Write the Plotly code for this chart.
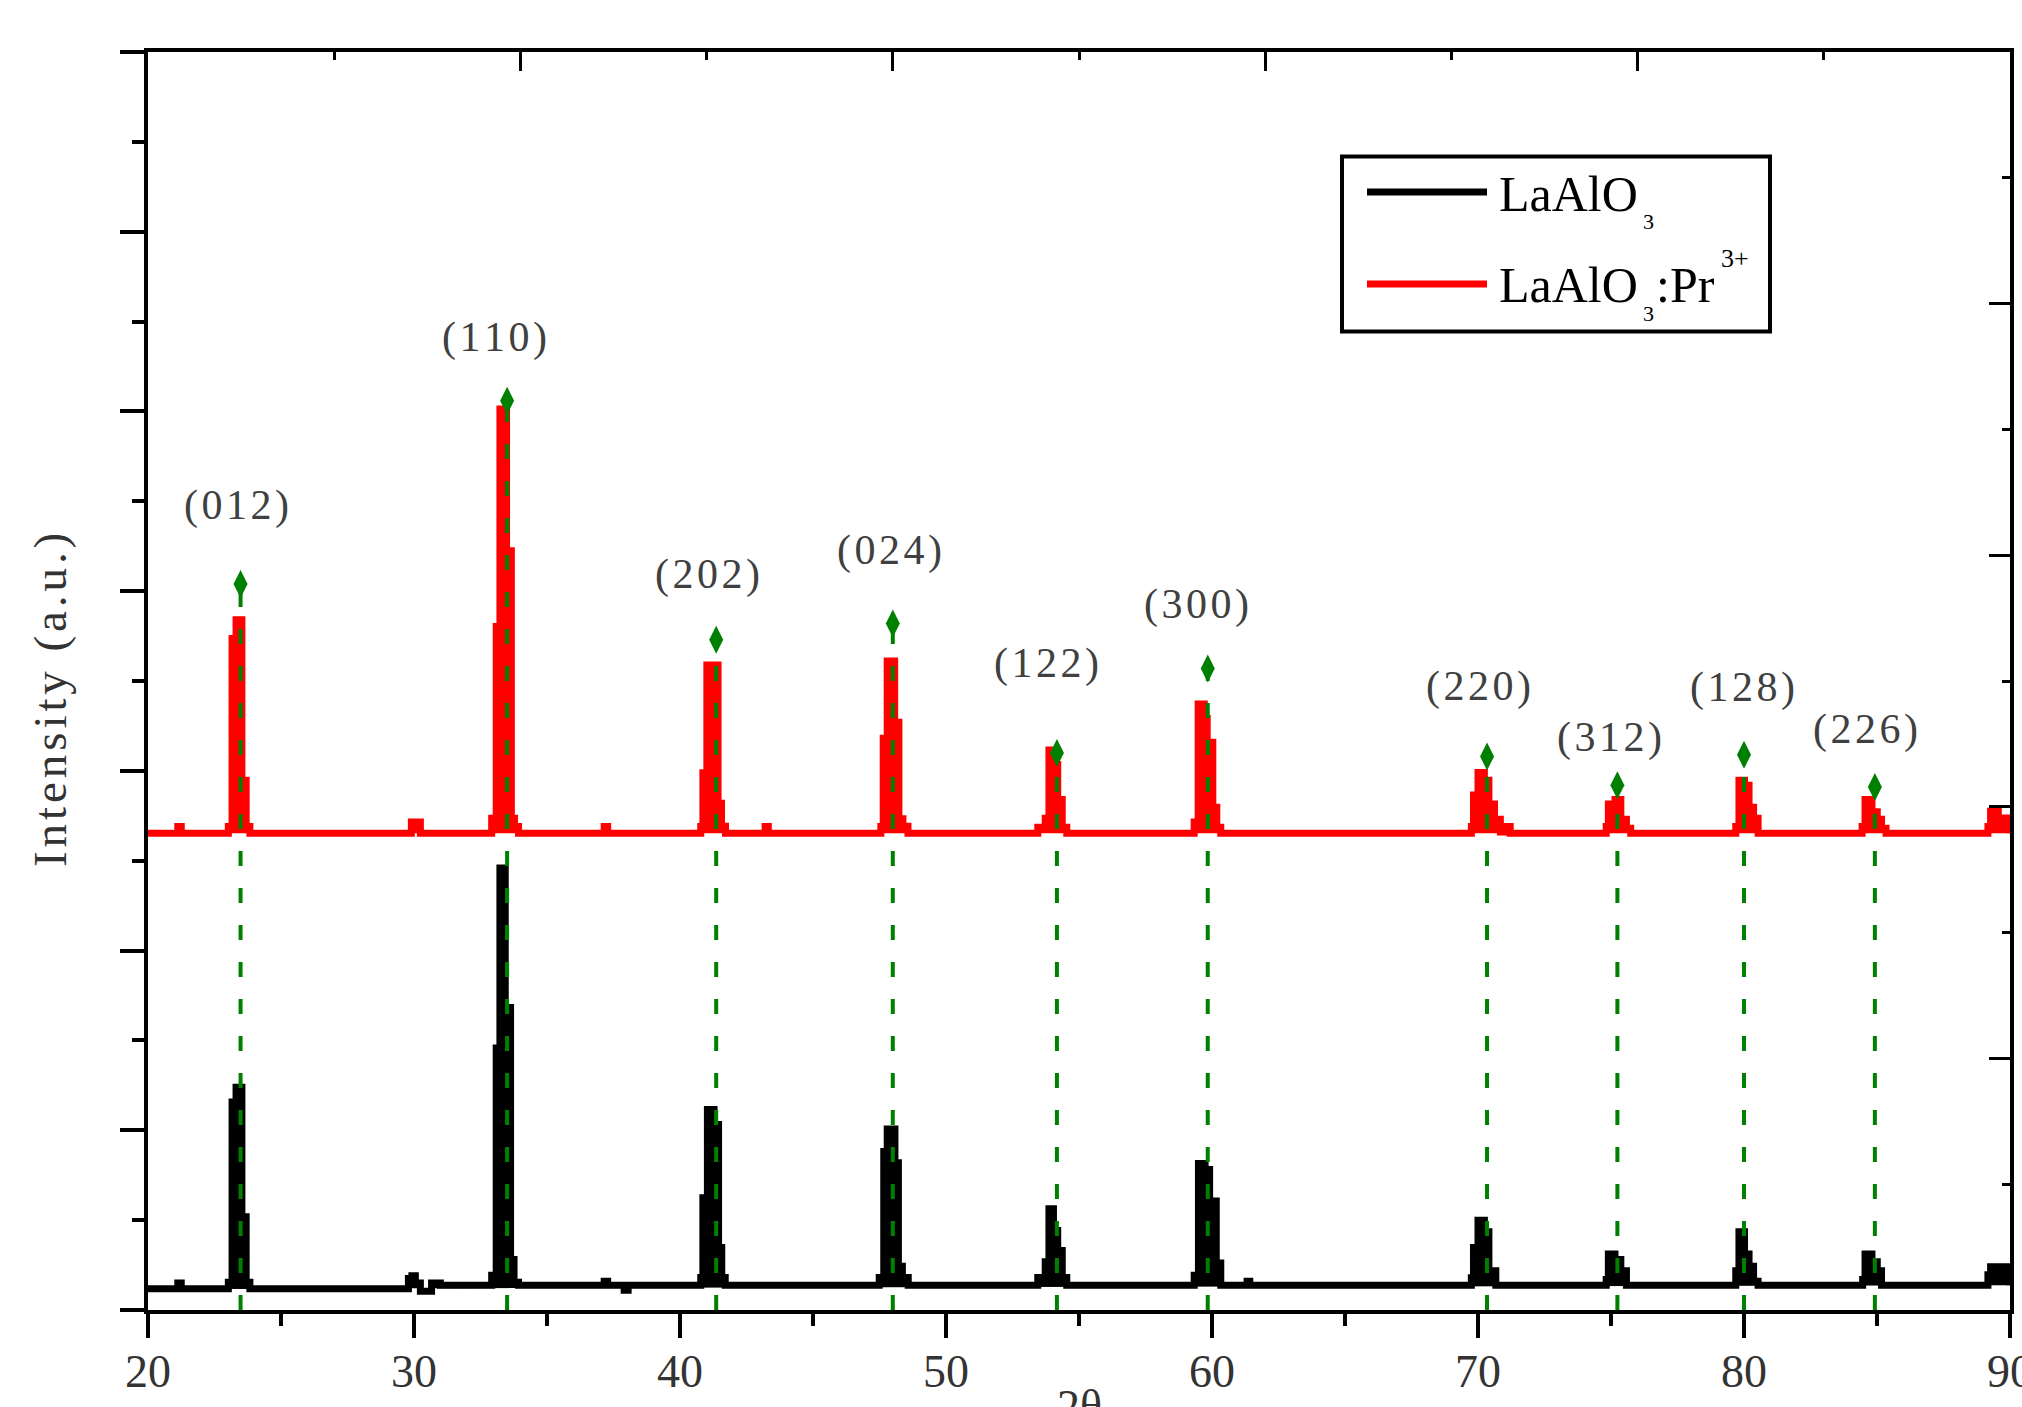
import plotly.graph_objects as go

# ---------------- data ----------------
two_theta_black = [20.0, 21.12, 21.25,
                   23.02, 23.16, 23.31, 23.53, 23.69, 23.83,
                   29.79, 29.92, 30.05, 30.24, 30.66, 30.99,
                   32.92, 33.09, 33.23, 33.43, 33.63, 33.76, 33.93,
                   37.15, 37.28, 37.90, 38.05,
                   40.78, 40.86, 41.03, 41.28, 41.45, 41.57, 41.70,
                   47.49, 47.66, 47.79, 48.08, 48.21, 48.36, 48.58,
                   53.45, 53.73, 53.87, 54.04, 54.20, 54.37, 54.54,
                   59.33, 59.49, 59.74, 59.91, 60.16, 60.33,
                   61.32, 61.42,
                   69.75, 69.83, 70.00, 70.24, 70.41, 70.67,
                   74.82, 74.90, 75.15, 75.37, 75.58,
                   79.69, 79.81, 80.02, 80.19, 80.36, 80.53,
                   84.46, 84.55, 84.81, 85.01, 85.17,
                   89.17, 89.27, 89.56, 89.72, 89.87, 90.0]
intensity_black = [0.118, 0.15, 0.118,
                   0.155, 1.157, 1.24, 0.519, 0.155, 0.118,
                   0.175, 0.19, 0.15, 0.105, 0.15, 0.138,
                   0.193, 1.458, 2.46, 1.683, 0.281, 0.155, 0.138,
                   0.16, 0.138, 0.11, 0.138,
                   0.181, 0.624, 1.115, 1.032, 0.348, 0.181, 0.138,
                   0.181, 0.882, 1.007, 0.819, 0.243, 0.181, 0.138,
                   0.181, 0.268, 0.564, 0.443, 0.331, 0.181, 0.138,
                   0.193, 0.815, 0.782, 0.606, 0.261, 0.138,
                   0.16, 0.138,
                   0.18, 0.348, 0.499, 0.436, 0.218, 0.138,
                   0.17, 0.311, 0.281, 0.218, 0.138,
                   0.218, 0.436, 0.311, 0.243, 0.16, 0.138,
                   0.17, 0.311, 0.268, 0.218, 0.138,
                   0.196, 0.24, 0.216, 0.24, 0.176, 0.138]

two_theta_red = [20.0, 21.12, 21.25,
                 23.02, 23.16, 23.31, 23.53, 23.69, 23.83,
                 29.90, 30.24,
                 32.92, 33.09, 33.23, 33.48, 33.66, 33.78, 33.93,
                 37.15, 37.28,
                 40.78, 40.86, 41.01, 41.43, 41.56, 41.71,
                 43.20, 43.32,
                 47.55, 47.64, 47.79, 48.07, 48.23, 48.38, 48.57,
                 53.45, 53.73, 53.87, 54.04, 54.20, 54.37, 54.54,
                 59.33, 59.48, 59.71, 59.82, 60.03, 60.18, 60.33,
                 69.75, 69.83, 70.00, 70.24, 70.41, 70.62, 70.84, 71.04, 71.21,
                 74.82, 74.90, 75.15, 75.37, 75.58, 75.74,
                 79.69, 79.81, 80.02, 80.19, 80.36, 80.53,
                 84.44, 84.55, 84.81, 85.01, 85.17, 85.34,
                 89.17, 89.27, 89.56, 89.87, 90.0]
intensity_red = [2.653, 2.69, 2.653,
                 2.69, 3.737, 3.841, 2.948, 2.69, 2.653,
                 2.716, 2.653,
                 2.736, 3.803, 5.014, 4.225, 2.736, 2.69, 2.653,
                 2.69, 2.653,
                 2.69, 2.99, 3.589, 2.82, 2.692, 2.653,
                 2.69, 2.653,
                 2.69, 3.181, 3.611, 3.27, 2.734, 2.692, 2.653,
                 2.686, 2.736, 3.116, 3.036, 2.84, 2.686, 2.653,
                 2.716, 3.372, 3.292, 3.159, 2.798, 2.686, 2.653,
                 2.69, 2.866, 2.991, 2.948, 2.816, 2.731, 2.66, 2.69, 2.653,
                 2.69, 2.816, 2.84, 2.731, 2.68, 2.653,
                 2.69, 2.948, 2.92, 2.798, 2.736, 2.653,
                 2.69, 2.84, 2.773, 2.731, 2.68, 2.653,
                 2.69, 2.775, 2.737, 2.71, 2.653]

hkl_labels = ["(012)", "(110)", "(202)", "(024)", "(122)",
              "(300)", "(220)", "(312)", "(128)", "(226)"]
hkl_pos = [23.48, 33.50, 41.36, 48.00, 54.17, 59.84, 70.34, 75.24, 80.00, 84.92]
marker_y = [4.04, 5.06, 3.73, 3.82, 3.10, 3.57, 3.08, 2.92, 3.09, 2.91]
label_x = [23.33, 33.03, 41.03, 47.86, 53.78, 59.40, 70.02, 74.96, 79.96, 84.56]
label_y = [4.476, 5.409, 4.09, 4.226, 3.60, 3.924, 3.472, 3.185, 3.465, 3.229]

x_tick_vals = [20, 30, 40, 50, 60, 70, 80, 90]
x_tick_text = ["20", "30", "40", "50", "60", "70", "80", "90"]

series_names = ["LaAlO3", "LaAlO3:Pr3+"]

# ---------------- layout geometry ----------------
W, H = 2022, 1407
L, R, T, B = 148, 12, 52, 97


def px_x(px):
    return (px - L) / (W - L - R)


def px_y(py):
    return (H - B - py) / (H - T - B)


SERIF = "Liberation Serif, Times New Roman, serif"
GREEN = "#008000"

fig = go.Figure()

fig.add_trace(go.Scatter(x=two_theta_black, y=intensity_black, mode="lines",
                         name=series_names[0], showlegend=False,
                         fill="toself", fillcolor="black",
                         line=dict(color="black", width=7, shape="hv")))
fig.add_trace(go.Scatter(x=two_theta_red, y=intensity_red, mode="lines",
                         name=series_names[1], showlegend=False,
                         fill="toself", fillcolor="#ff0000",
                         line=dict(color="#ff0000", width=7, shape="hv")))

# green dashed reference lines
dx, dy = [], []
for p, m in zip(hkl_pos, marker_y):
    dx += [p, p, None]
    dy += [0, m, None]
fig.add_trace(go.Scatter(x=dx, y=dy, mode="lines", showlegend=False,
                         hoverinfo="skip",
                         line=dict(color=GREEN, width=4, dash="15px,22px")))
fig.add_trace(go.Scatter(x=hkl_pos, y=marker_y, mode="markers", showlegend=False,
                         text=hkl_labels,
                         marker=dict(symbol="diamond-tall", size=20, color=GREEN,
                                     line=dict(width=0))))

# dummy trace for secondary (top/right) axes
fig.add_trace(go.Scatter(x=[None], y=[None], xaxis="x2", yaxis="y2",
                         showlegend=False, hoverinfo="skip"))

HAIR = "\u200a"
annotations = []
for t, lx, ly in zip(hkl_labels, label_x, label_y):
    annotations.append(dict(x=lx, y=ly, xref="x", yref="y", text=HAIR.join(t),
                            showarrow=False, xanchor="center", yanchor="middle",
                            font=dict(family=SERIF, size=42, color="#404040")))

# axis titles
annotations.append(dict(x=px_x(50), y=px_y(700), xref="paper", yref="paper",
                        text=HAIR.join("Intensity (a.u.)"), textangle=-90,
                        showarrow=False, xanchor="center", yanchor="middle",
                        font=dict(family=SERIF, size=47, color="#333333")))
annotations.append(dict(x=0.5, y=px_y(1406), xref="paper", yref="paper",
                        text="2θ", showarrow=False, xanchor="center", yanchor="middle",
                        font=dict(family=SERIF, size=46, color="#333333")))

# manual legend text
LEG_FONT = dict(family=SERIF, size=50, color="black")
SMALL_FONT = dict(family=SERIF, size=22, color="black")
SUP_FONT = dict(family=SERIF, size=26, color="black")
annotations += [
    dict(x=px_x(1497), y=px_y(194), xref="paper", yref="paper", text="LaAlO",
         showarrow=False, xanchor="left", yanchor="middle", font=LEG_FONT),
    dict(x=px_x(1641), y=px_y(221), xref="paper", yref="paper", text="3",
         showarrow=False, xanchor="left", yanchor="middle", font=SMALL_FONT),
    dict(x=px_x(1497), y=px_y(285), xref="paper", yref="paper", text="LaAlO",
         showarrow=False, xanchor="left", yanchor="middle", font=LEG_FONT),
    dict(x=px_x(1641), y=px_y(313), xref="paper", yref="paper", text="3",
         showarrow=False, xanchor="left", yanchor="middle", font=SMALL_FONT),
    dict(x=px_x(1654), y=px_y(285), xref="paper", yref="paper", text=":Pr",
         showarrow=False, xanchor="left", yanchor="middle", font=LEG_FONT),
    dict(x=px_x(1719), y=px_y(259), xref="paper", yref="paper", text="3+",
         showarrow=False, xanchor="left", yanchor="middle", font=SUP_FONT),
]

shapes = [
    dict(type="rect", xref="paper", yref="paper",
         x0=px_x(1342), x1=px_x(1770), y0=px_y(331.5), y1=px_y(156.5),
         line=dict(color="black", width=4), fillcolor="rgba(0,0,0,0)"),
    dict(type="line", xref="paper", yref="paper",
         x0=px_x(1367), x1=px_x(1487), y0=px_y(192), y1=px_y(192),
         line=dict(color="black", width=7)),
    dict(type="line", xref="paper", yref="paper",
         x0=px_x(1367), x1=px_x(1487), y0=px_y(284), y1=px_y(284),
         line=dict(color="#ff0000", width=7)),
]

axis_common = dict(showgrid=False, zeroline=False, showline=True,
                   linecolor="black", linewidth=4, automargin=False)

fig.update_layout(
    width=W, height=H, autosize=False,
    margin=dict(l=L, r=R, t=T, b=B, pad=0, autoexpand=False),
    paper_bgcolor="white", plot_bgcolor="white",
    font=dict(family=SERIF, color="#333333"),
    showlegend=False,
    annotations=annotations,
    shapes=shapes,
    xaxis=dict(range=[20, 90], tickmode="array", tickvals=x_tick_vals,
               ticktext=x_tick_text, ticks="outside", ticklen=24, tickwidth=3.5,
               tickcolor="black", ticklabelstandoff=-6, ticklabeloverflow="allow",
               tickfont=dict(family=SERIF, size=46, color="#333333"),
               minor=dict(tickmode="linear", tick0=20, dtick=5, ticks="outside",
                          ticklen=12, tickwidth=3.5, tickcolor="black"),
               **axis_common),
    yaxis=dict(range=[0, 7], tick0=0, dtick=1, ticks="outside", ticklen=24,
               tickwidth=3.5, tickcolor="black", showticklabels=False,
               minor=dict(tick0=0, dtick=0.5, ticks="outside", ticklen=12,
                          tickwidth=3.5, tickcolor="black"),
               **axis_common),
    xaxis2=dict(overlaying="x", side="top", range=[0, 5], tick0=0, dtick=1,
                ticks="inside", ticklen=19, tickwidth=3, tickcolor="black",
                showticklabels=False,
                minor=dict(tick0=0, dtick=0.5, ticks="inside", ticklen=8,
                           tickwidth=3, tickcolor="black"),
                **axis_common),
    yaxis2=dict(overlaying="y", side="right", range=[0, 5], tick0=0, dtick=1,
                ticks="inside", ticklen=21, tickwidth=3, tickcolor="black",
                showticklabels=False,
                minor=dict(tick0=0, dtick=0.5, ticks="inside", ticklen=8,
                           tickwidth=3, tickcolor="black"),
                **axis_common),
)

fig.write_html("out.html", config={"displayModeBar": False},
               post_script="document.body.style.margin='0';")
